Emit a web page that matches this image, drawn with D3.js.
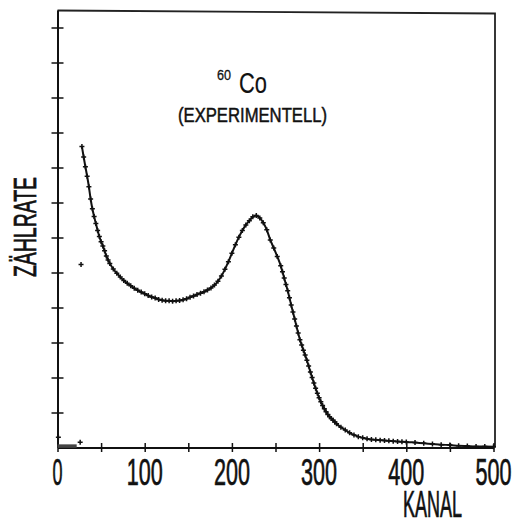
<!DOCTYPE html>
<html>
<head>
<meta charset="utf-8">
<script src="https://cdn.jsdelivr.net/npm/d3@7"></script>
<style>
  body { margin: 0; background: #fff; }
  text { font-family: "Liberation Sans", "DejaVu Sans", sans-serif; fill: #111; stroke: #111; stroke-width: 0.7; }
</style>
</head>
<body>
<script>
// 60Co spectrum (experimental), counts in tick units vs channel
const kanal = [28, 30, 32, 34, 36, 38, 40, 42, 44, 46, 48, 50, 52, 54, 56, 58, 60,
  64, 68, 72, 76, 80, 84, 88, 92, 96, 100, 104, 108, 112, 116, 120, 124, 128, 132, 136,
  140, 144, 148, 152, 156, 160, 164, 168, 172, 176, 180, 184, 188, 192, 196, 200, 204,
  208, 212, 216, 220, 224, 228, 232, 236, 240, 244, 248, 252,
  256, 258, 260, 262, 264, 266, 268, 270, 272, 274, 276, 278, 280, 282, 284, 286, 288,
  290, 292, 294, 296, 298, 300, 302, 304, 306, 308, 310, 312, 314, 316, 318, 320,
  325, 330, 335, 340, 345, 350, 355, 360, 365, 370, 375, 380, 385, 390, 395, 400,
  410, 420, 430, 440, 450, 460, 470, 480, 490, 500];
const zaehlrate = [8.60, 8.30, 8.02, 7.75, 7.45, 7.10, 6.82, 6.60, 6.40, 6.20, 6.03, 5.88, 5.76, 5.62, 5.47, 5.36, 5.26,
  5.10, 4.98, 4.87, 4.77, 4.69, 4.62, 4.55, 4.49, 4.44, 4.39, 4.34, 4.30, 4.27, 4.23, 4.21, 4.19, 4.19, 4.18, 4.19,
  4.20, 4.22, 4.25, 4.29, 4.33, 4.37, 4.41, 4.45, 4.50, 4.56, 4.64, 4.75, 4.90, 5.09, 5.31, 5.55, 5.79,
  6.01, 6.20, 6.36, 6.48, 6.59, 6.63, 6.56, 6.42, 6.22, 5.93, 5.70, 5.46,
  5.19, 5.02, 4.84, 4.66, 4.48, 4.28, 4.07, 3.87, 3.67, 3.47, 3.27, 3.08, 2.93, 2.78, 2.64, 2.49, 2.33,
  2.16, 2.00, 1.84, 1.69, 1.55, 1.42, 1.31, 1.20, 1.11, 1.02, 0.94, 0.88, 0.83, 0.78, 0.73, 0.68,
  0.58, 0.50, 0.42, 0.36, 0.31, 0.28, 0.25, 0.23, 0.22, 0.21, 0.20, 0.19, 0.18, 0.17, 0.165, 0.16,
  0.14, 0.12, 0.10, 0.08, 0.07, 0.05, 0.04, 0.03, 0.03, 0.02];
// channels below the cut-off, sitting on the base line
const lowKanal = [0, 2, 4, 6, 8, 10, 12, 14, 16, 18, 20, 22];
const lowRate = [0.04, 0.04, 0.04, 0.04, 0.04, 0.04, 0.04, 0.04, 0.04, 0.04, 0.04, 0.04];
// stray points
const strayKanal = [1, 26, 27];
const strayRate = [0.29, 0.15, 5.23];

const xTicks = d3.range(0, 501, 50);
const xLabels = [0, 100, 200, 300, 400, 500];
const yTicks = [1, 2, 3, 4, 5, 6, 7, 8, 9, 10, 11, 12];

const w = 515, h = 520;
const x = d3.scaleLinear().domain([0, 500]).range([57.5, 493.5]);
const y = d3.scaleLinear().domain([0, 12.5]).range([447.5, 10]);

const svg = d3.select("body").append("svg")
  .attr("width", w).attr("height", h);

// frame (top + right)
svg.append("path")
  .attr("d", `M${x(0)},${y(12.5) + 0.5}L${x(500) + 1.5},${y(12.5) + 3.5}V${y(0)}`)
  .attr("fill", "none").attr("stroke", "#222").attr("stroke-width", 1.8);

// x axis, ticks crossing the line
svg.append("g")
  .attr("transform", `translate(0,${y(0)})`)
  .call(d3.axisBottom(x).tickValues(xTicks).tickSize(9).tickSizeOuter(0).tickFormat(""))
  .call(g => g.selectAll(".tick line").attr("y1", -4.5).attr("y2", 4.5)
    .attr("stroke", "#111").attr("stroke-width", 1.5))
  .call(g => g.select(".domain").attr("stroke", "#111").attr("stroke-width", 2));

// y axis
svg.append("g")
  .attr("transform", `translate(${x(0)},0)`)
  .call(d3.axisLeft(y).tickValues(yTicks).tickSize(12).tickSizeOuter(0).tickFormat(""))
  .call(g => g.selectAll(".tick line").attr("x1", -6).attr("x2", 6)
    .attr("stroke", "#111").attr("stroke-width", 1.5))
  .call(g => g.select(".domain").attr("stroke", "#111").attr("stroke-width", 2));

// x labels
svg.selectAll(".xl")
  .data(xLabels)
  .join("text")
  .attr("class", "xl")
  .attr("x", d => x(d))
  .attr("y", 485)
  .attr("text-anchor", "middle")
  .attr("font-size", 37)
  .attr("textLength", d => String(d).length === 1 ? 10 : 36)
  .attr("lengthAdjust", "spacingAndGlyphs")
  .text(d => d);

svg.append("text")
  .attr("x", 432.5).attr("y", 517)
  .attr("text-anchor", "middle")
  .attr("font-size", 37)
  .attr("textLength", 59).attr("lengthAdjust", "spacingAndGlyphs")
  .text("KANAL");

svg.append("text")
  .attr("transform", "translate(36,227) rotate(-90)")
  .attr("text-anchor", "middle")
  .attr("font-size", 31)
  .attr("textLength", 100).attr("lengthAdjust", "spacingAndGlyphs")
  .text("ZÄHLRATE");

// title
svg.append("text")
  .attr("x", 217).attr("y", 80)
  .attr("font-size", 15.5)
  .attr("textLength", 14).attr("lengthAdjust", "spacingAndGlyphs")
  .style("stroke-width", 0.3)
  .text("60");
svg.append("text")
  .attr("x", 239).attr("y", 93)
  .attr("font-size", 30)
  .attr("textLength", 28).attr("lengthAdjust", "spacingAndGlyphs")
  .style("stroke-width", 0.2)
  .text("Co");
svg.append("text")
  .attr("x", 252.5).attr("y", 122)
  .attr("text-anchor", "middle")
  .attr("font-size", 21)
  .attr("textLength", 149).attr("lengthAdjust", "spacingAndGlyphs")
  .style("stroke-width", 0.5)
  .text("(EXPERIMENTELL)");

// spectrum
const pts = kanal.map((k, i) => [k, zaehlrate[i]]);
const low = lowKanal.map((k, i) => [k, lowRate[i]]);
const stray = strayKanal.map((k, i) => [k, strayRate[i]]);

svg.append("path")
  .datum(pts)
  .attr("d", d3.line().curve(d3.curveMonotoneX).x(d => x(d[0])).y(d => y(d[1])))
  .attr("fill", "none").attr("stroke", "#111").attr("stroke-width", 2);

svg.append("path")
  .datum(low)
  .attr("d", d3.line().x(d => x(d[0])).y(d => y(d[1])))
  .attr("fill", "none").attr("stroke", "#444").attr("stroke-width", 3.5);

const cross = "M-2.5,0H2.5M0,-2.5V2.5";
svg.selectAll(".pt")
  .data(pts.concat(stray))
  .join("path")
  .attr("class", "pt")
  .attr("transform", d => `translate(${x(d[0])},${y(d[1])})`)
  .attr("d", cross)
  .attr("stroke", "#111").attr("stroke-width", 1.5);
</script>
</body>
</html>
